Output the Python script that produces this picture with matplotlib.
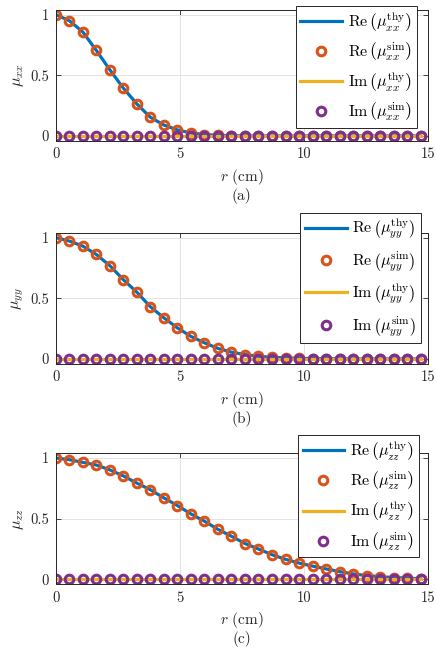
import numpy as np
import matplotlib
matplotlib.use("Agg")
import matplotlib.pyplot as plt

plt.rcParams["font.family"] = "serif"
plt.rcParams["font.serif"] = ["cmr10"]
plt.rcParams["mathtext.fontset"] = "cm"
plt.rcParams["axes.formatter.use_mathtext"] = True

# sample positions (cm)
r = np.arange(28) * 0.545

mu_xx = [1.0, 0.95, 0.857, 0.705, 0.545, 0.394, 0.264, 0.154, 0.09, 0.05,
         0.025, 0.012, 0.005, 0.002, 0.001, 0, 0, 0, 0, 0,
         0, 0, 0, 0, 0, 0, 0, 0]
mu_yy = [1.0, 0.972, 0.93, 0.861, 0.769, 0.653, 0.55, 0.43, 0.339, 0.256,
         0.186, 0.133, 0.087, 0.056, 0.036, 0.022, 0.014, 0.009, 0.005, 0.003,
         0.002, 0.001, 0, 0, 0, 0, 0, 0]
mu_zz = [1.0, 0.986, 0.964, 0.942, 0.902, 0.852, 0.793, 0.738, 0.671, 0.608,
         0.539, 0.479, 0.412, 0.355, 0.295, 0.25, 0.203, 0.165, 0.134, 0.109,
         0.086, 0.064, 0.045, 0.031, 0.022, 0.014, 0.011, 0.004]
mu_im = [0.0] * 28

PANELS = [("xx", mu_xx, "(a)"), ("yy", mu_yy, "(b)"), ("zz", mu_zz, "(c)")]

BLUE, ORANGE, YELLOW, PURPLE = "#0072BD", "#D95319", "#EDB120", "#7E2F8E"
AXC = "#262626"

fig = plt.figure(figsize=(4.36, 6.52), dpi=100)
bottoms = [0.784, 0.442, 0.104]
leg_anchor = [(0.970, 1.03), (0.981, 1.153), (0.976, 1.137)]

for (sub, re, tag), b, anc in zip(PANELS, bottoms, leg_anchor):
    ax = fig.add_axes([0.128, b, 0.853, 0.201])
    ax.plot(r, re, "-", color=BLUE, lw=2.3,
            label=r"$\mathrm{Re}\,\left(\mu_{%s}^{\mathrm{thy}}\right)$" % sub)
    ax.plot(r, re, "o", mfc="none", mec=ORANGE, ms=6.2, mew=2.2,
            label=r"$\mathrm{Re}\,\left(\mu_{%s}^{\mathrm{sim}}\right)$" % sub)
    ax.plot(r, mu_im, "-", color=YELLOW, lw=2.3,
            label=r"$\mathrm{Im}\,\left(\mu_{%s}^{\mathrm{thy}}\right)$" % sub)
    ax.plot(r, mu_im, "o", mfc="none", mec=PURPLE, ms=6.2, mew=2.2,
            label=r"$\mathrm{Im}\,\left(\mu_{%s}^{\mathrm{sim}}\right)$" % sub)

    ax.set_xlim(0, 15); ax.set_ylim(-0.04, 1.04)
    ax.set_xticks([0, 5, 10, 15]); ax.set_yticks([0, 0.5, 1])
    ax.set_xticklabels(["0", "5", "10", "15"]); ax.set_yticklabels(["0", "0.5", "1"])
    ax.grid(True, color="#e3e3e3", lw=0.7)
    ax.set_axisbelow(True)
    ax.tick_params(direction="in", length=3.5, width=0.6, top=True, right=True,
                   labelsize=10.5, colors=AXC, pad=5)
    for s in ax.spines.values():
        s.set_color(AXC); s.set_linewidth(0.7)
    ax.set_ylabel(r"$\mu_{%s}$" % sub, fontsize=11.5, color=AXC, labelpad=3)
    ax.set_xlabel(r"$r$ (cm)" + "\n" + tag, fontsize=11, color=AXC, labelpad=4,
                  linespacing=1.05)

    leg = ax.legend(loc="upper right", bbox_to_anchor=anc, borderaxespad=0,
                    fontsize=11.5, fancybox=False, framealpha=1, edgecolor=AXC,
                    handlelength=2.6, handletextpad=0.35, labelspacing=0.5,
                    borderpad=0.3)
    leg.get_frame().set_linewidth(0.7)

fig.savefig("out.png", dpi=100)
